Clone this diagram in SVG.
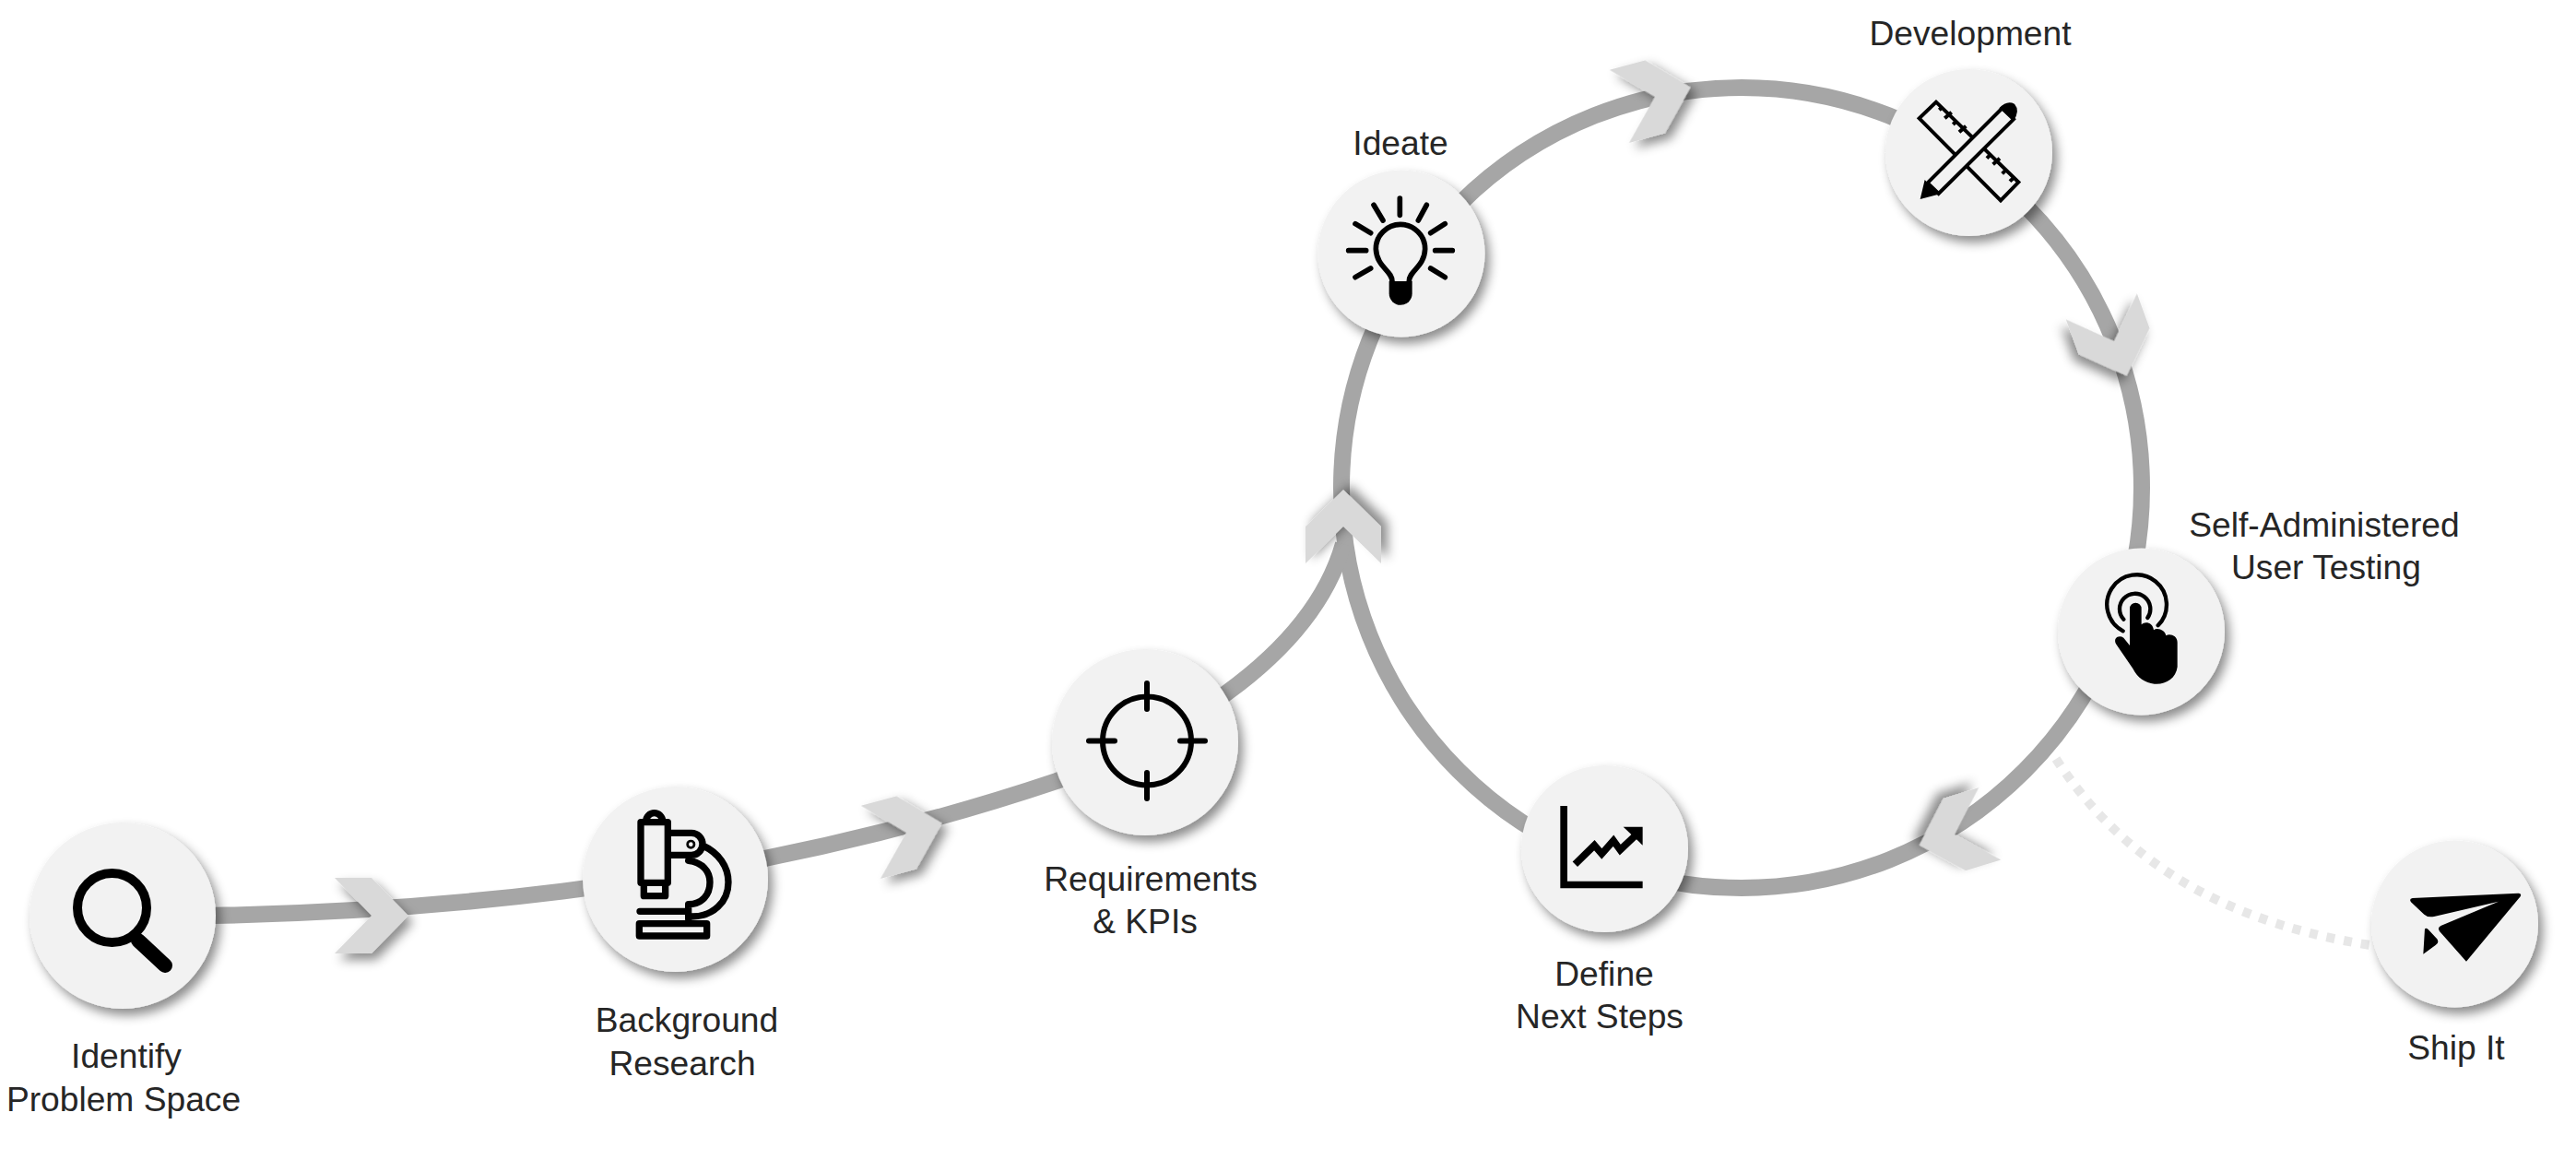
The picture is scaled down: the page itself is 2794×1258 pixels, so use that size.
<svg xmlns="http://www.w3.org/2000/svg" width="2794" height="1258" viewBox="0 0 2794 1258">
<style>
text{font-family:"Liberation Sans",Arial,sans-serif;font-size:37.2px;fill:#262626;text-anchor:middle}
.line{fill:none;stroke:#a6a6a6;stroke-width:18}
.dash{fill:none;stroke:#e7e7e7;stroke-width:10;stroke-dasharray:9 10}
.chev{fill:#d9d9d9;filter:url(#sh)}
.disc{fill:#f2f2f2;filter:url(#sh)}
.ink{fill:none;stroke:#000;stroke-linecap:round}
.solid{fill:#000}
</style>
<defs>
<filter id="sh" x="-30%" y="-30%" width="170%" height="170%"><feDropShadow dx="5" dy="7" stdDeviation="6" flood-color="#000" flood-opacity=".45"/></filter>
<path id="ch" d="M-40-41H0L40 0 0 41H-40L0 0Z"/>
</defs>
<rect width="2794" height="1258" fill="#fff"/>
<g id="connectors">
<path class="dash" d="M2230 823C2300 930 2420 1022 2662 1034"/>
<circle class="line" cx="1889" cy="529" r="434"/>
<path class="line" d="M133 994C420 994 780 970 1146 847C1260 805 1420 720 1457 590"/>
<use href="#ch" class="chev" transform="translate(403 993)"/>
<use href="#ch" class="chev" transform="translate(983 903) rotate(-15)"/>
<use href="#ch" class="chev" transform="translate(1795 105) rotate(-15)"/>
<use href="#ch" class="chev" transform="translate(2293 370) rotate(70)"/>
<use href="#ch" class="chev" transform="translate(2120 905) rotate(163)"/>
<use href="#ch" class="chev" transform="translate(1457 571) rotate(-90)"/>
</g>
<g id="identify">
<circle class="disc" cx="133" cy="993" r="101"/>
<circle cx="121.500" cy="984.500" r="37.500" fill="none" stroke="#000" stroke-width="10"/>
<path class="ink" stroke-width="16" d="M150 1020L179 1047"/>
<text x="137" y="1158">Identify</text><text x="134" y="1205">Problem Space</text>
</g>
<g id="background">
<circle class="disc" cx="732.500" cy="953.500" r="100.500"/>
<g transform="translate(630 850) scale(.3333)" fill="none" stroke="#000" stroke-width="22" stroke-linecap="round" stroke-linejoin="round">
<path d="M195 125H283V322H195ZM212 122A26 26 0 0 1 266 122M205 322V365H275V322M283 160H360A36 36 0 0 1 360 232H283M395 200C450 225 480 270 480 320C480 385 430 432 360 432M350 250C395 255 420 285 420 320C420 360 395 392 350 392V440M192 415H345M190 455H410V495H190Z"/>
<circle cx="358" cy="197" r="4"/>
</g>
<text x="745" y="1119">Background</text><text x="740" y="1166">Research</text>
</g>
<g id="requirements">
<circle class="disc" cx="1242" cy="805" r="101"/>
<circle cx="1244" cy="803.500" r="48" fill="none" stroke="#000" stroke-width="6"/>
<path class="ink" stroke-width="6" d="M1244 741V769M1244 838V866M1181 803.500H1209M1280 803.500H1307"/>
<text x="1248" y="966">Requirements</text><text x="1242" y="1012">&amp; KPIs</text>
</g>
<g id="ideate">
<circle class="disc" cx="1520" cy="275" r="90.500"/>
<g transform="translate(1430 190) scale(.3333)">
<path class="ink" stroke-width="17" d="M265 75V130M180 97L210 147M352 97L325 147M120 158L170 188M412 158L365 188M98 245H155M380 245H436M120 332L170 303M412 332L365 303"/>
<path class="ink" stroke-width="17" d="M240 345C240 310 190 300 187 240A80 80 0 1 1 347 240C345 300 295 310 295 345"/>
<path class="solid" d="M230 345H305V385A37 37 0 0 1 230 385Z"/>
</g>
<text x="1519" y="168">Ideate</text>
</g>
<g id="development">
<circle class="disc" cx="2135.500" cy="165.500" r="90.500"/>
<g transform="translate(2000 60) scale(.3333)">
<path fill="none" stroke="#000" stroke-width="12" d="M300 152L245 205L510 472L568 413ZM310 178L322 167M328 205L350 185M355 225L367 213M375 250L397 230M465 335L477 323M485 355L507 335M515 385L527 373M540 410L555 396"/>
<path d="M272 415L515 172L552 208L308 450Z" fill="#f2f2f2" stroke="#000" stroke-width="12"/>
<path class="solid" d="M505 172Q530 145 555 158Q574 180 552 212ZM248 468L263 405L308 452Z"/>
</g>
<text x="2137" y="49">Development</text>
</g>
<g id="testing">
<circle class="disc" cx="2322.500" cy="685" r="90.500"/>
<g transform="translate(2220 590) scale(.3333)">
<path class="ink" stroke-width="13" d="M248 283A97 97 0 1 1 362 265M250 245A50 50 0 1 1 328 240"/>
<path class="solid" d="M270 210A19 19 0 0 1 308 210V262C320 250 345 255 348 280C360 270 385 280 388 298C400 290 425 298 425 320V400C420 440 385 458 350 455C320 452 295 435 280 405L225 325C215 305 235 295 250 305L270 330Z"/>
</g>
<text x="2521" y="582">Self-Administered</text><text x="2523" y="628">User Testing</text>
</g>
<g id="steps">
<circle class="disc" cx="1740.500" cy="920.500" r="90.500"/>
<g transform="translate(1640 840) scale(.3333)">
<path class="solid" d="M157 102H180V347H425V370H157ZM362 170H425V230Z"/>
<path fill="none" stroke="#000" stroke-width="23" d="M205 292L268 230L292 258L330 215L352 245L405 195"/>
</g>
<text x="1740" y="1069">Define</text><text x="1735" y="1115">Next Steps</text>
</g>
<g id="ship">
<circle class="disc" cx="2662.500" cy="1002" r="90.500"/>
<g transform="translate(2560 910) scale(.3333)">
<path class="solid" d="M170 192L515 176Q526 176 521 187L345 398L258 300Q250 288 262 282L450 203L240 252Q220 256 208 245L165 205Q158 194 170 192ZM210 292Q215 288 222 295L250 325Q258 338 245 345L205 374Z"/>
</g>
<text x="2664" y="1149">Ship It</text>
</g>
</svg>
